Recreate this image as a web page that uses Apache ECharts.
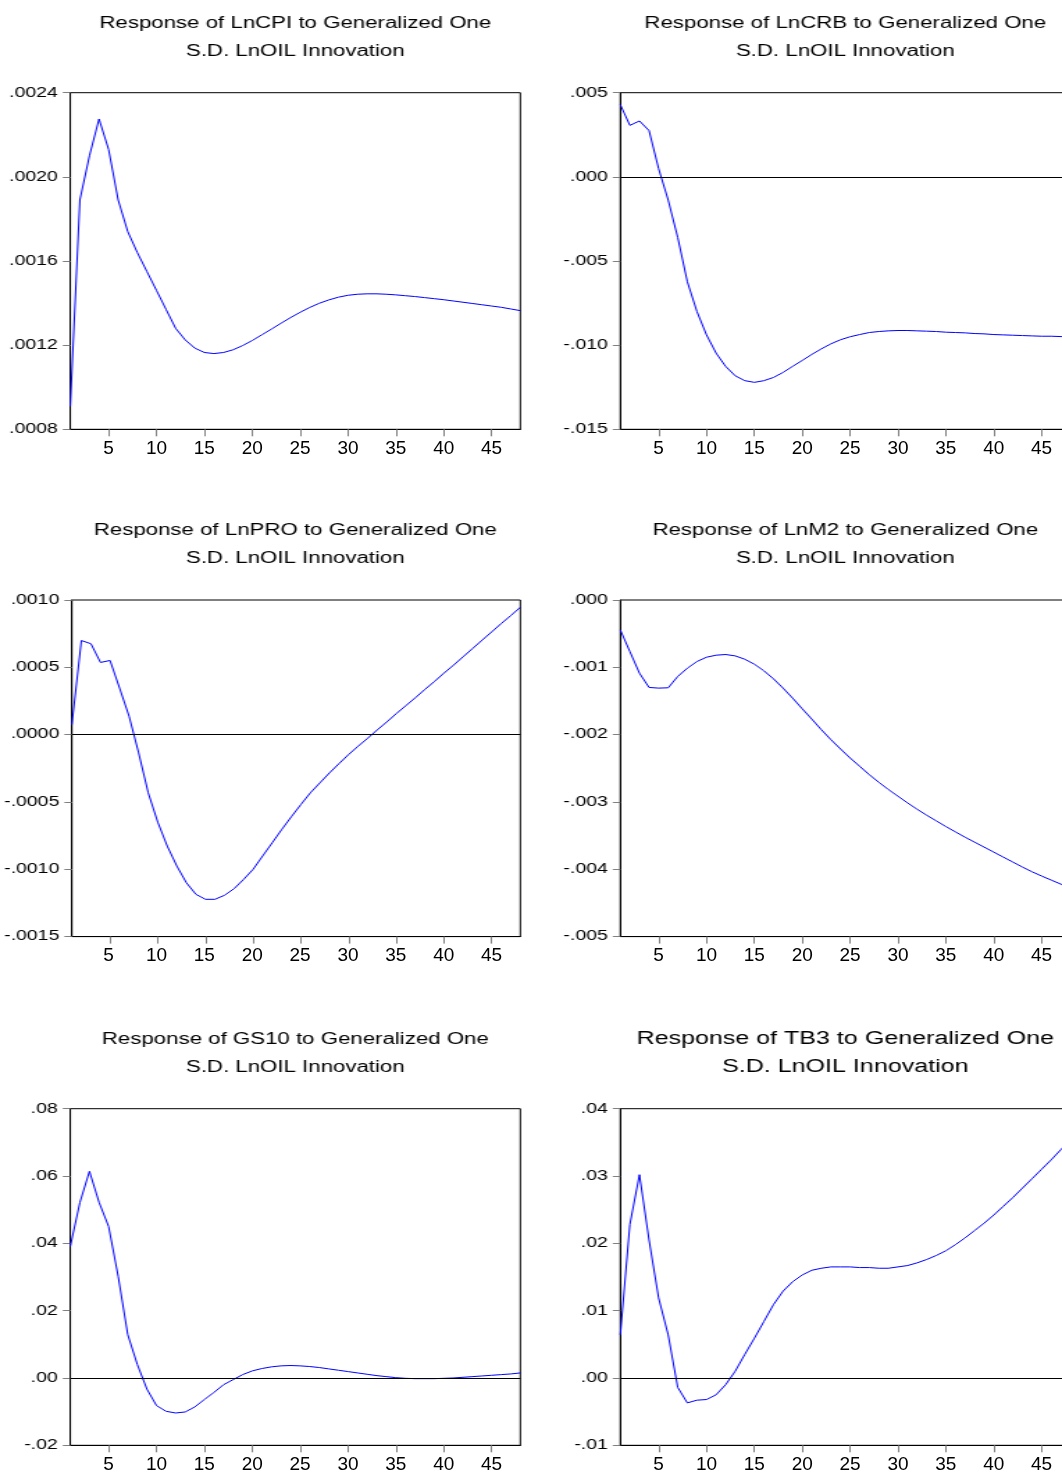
<!DOCTYPE html>
<html><head><meta charset="utf-8">
<script src="https://cdn.jsdelivr.net/npm/echarts@6.0.0/dist/echarts.min.js"></script>
<style>
html,body{margin:0;padding:0;background:#fff;overflow:hidden;width:1062px;height:1475px;}
#wrap{width:1062px;height:1475px;overflow:hidden;position:relative;background:#fff;}
#chart{width:780px;height:1475px;transform:scaleX(1.39);transform-origin:0 0;position:absolute;left:0;top:0;}
#xlab{width:1090px;height:1475px;position:absolute;left:0;top:0;pointer-events:none;}
</style></head>
<body><div id="wrap"><div id="chart"></div><div id="xlab"></div></div>
<script>
// ---- Data (periods 1..48) ----
const periods = ['1','2','3','4','5','6','7','8','9','10','11','12','13','14','15','16','17','18','19','20','21','22','23','24','25','26','27','28','29','30','31','32','33','34','35','36','37','38','39','40','41','42','43','44','45','46','47','48'];

const lncpi = [0.00091, 0.00189, 0.00210, 0.002275, 0.00213, 0.00189, 0.00174, 0.00164, 0.00155, 0.00146, 0.00137, 0.00128, 0.001225, 0.001186, 0.001165, 0.00116, 0.001165, 0.001178, 0.001198, 0.001222, 0.001249, 0.001276, 0.001304, 0.001331, 0.001356, 0.001379, 0.001399, 0.001415, 0.001428, 0.001437, 0.001442, 0.001444, 0.001444, 0.001442, 0.001439, 0.001435, 0.001431, 0.001426, 0.001421, 0.001416, 0.00141, 0.001404, 0.001398, 0.001392, 0.001386, 0.00138, 0.001372, 0.001364];

const lncrb = [0.00429, 0.00306, 0.00332, 0.00275, 0.00049, -0.00138, -0.0036, -0.00623, -0.0080, -0.00939, -0.01047, -0.01126, -0.01182, -0.01211, -0.01221, -0.01211, -0.01192, -0.01162, -0.01126, -0.01091, -0.01055, -0.01022, -0.00992, -0.00968, -0.0095, -0.00937, -0.00925, -0.00919, -0.00915, -0.00913, -0.00913, -0.00915, -0.00917, -0.00919, -0.00923, -0.00925, -0.00927, -0.00931, -0.00933, -0.00937, -0.00939, -0.00941, -0.00943, -0.00945, -0.00947, -0.00947, -0.00949, -0.00949];

const lnpro = [0.000074, 0.000699, 0.000675, 0.000536, 0.000551, 0.000346, 0.000136, -0.000136, -0.000432, -0.00065, -0.000828, -0.000976, -0.0011, -0.001186, -0.001223, -0.001223, -0.001193, -0.001144, -0.001075, -0.001, -0.000901, -0.000803, -0.000704, -0.00061, -0.000519, -0.000432, -0.000358, -0.000284, -0.000215, -0.000148, -0.000086, -0.000027, 0.000035, 0.000094, 0.000156, 0.000215, 0.000274, 0.000336, 0.000395, 0.000457, 0.000516, 0.000578, 0.00064, 0.000702, 0.000763, 0.000825, 0.000884, 0.000946];

const lnm2 = [-0.000445, -0.000766, -0.001087, -0.001299, -0.001309, -0.001304, -0.001136, -0.001013, -0.000914, -0.00085, -0.00082, -0.00081, -0.00083, -0.00088, -0.000954, -0.001052, -0.001171, -0.001309, -0.001458, -0.001616, -0.001769, -0.001927, -0.002075, -0.002213, -0.002347, -0.00247, -0.002594, -0.002708, -0.002816, -0.002915, -0.003014, -0.003108, -0.003197, -0.003281, -0.003365, -0.003444, -0.003523, -0.003597, -0.003671, -0.003745, -0.003819, -0.003893, -0.003967, -0.004037, -0.0041, -0.00416, -0.00422, -0.00428];

const gs10 = [0.0391, 0.0521, 0.0614, 0.0522, 0.045, 0.0302, 0.0129, 0.004, -0.0033, -0.0082, -0.0099, -0.0104, -0.0101, -0.0086, -0.0064, -0.0043, -0.002, -0.0005, 0.001, 0.0021, 0.0028, 0.0033, 0.0036, 0.0037, 0.0036, 0.0034, 0.0031, 0.0027, 0.0023, 0.0019, 0.0015, 0.0011, 0.0007, 0.0004, 0.0001, -0.0001, -0.0002, -0.0002, -0.0002, -0.0001, 0.0, 0.0002, 0.0004, 0.0006, 0.0008, 0.001, 0.0012, 0.0015];

const tb3 = [0.0064, 0.0228, 0.0302, 0.0205, 0.0119, 0.0064, -0.0014, -0.0037, -0.0033, -0.0032, -0.0025, -0.001, 0.001, 0.0035, 0.0059, 0.0084, 0.0109, 0.0129, 0.0143, 0.0153, 0.016, 0.0163, 0.0165, 0.0165, 0.0165, 0.0164, 0.0164, 0.0163, 0.0163, 0.0165, 0.0167, 0.0171, 0.0176, 0.0182, 0.0189, 0.0198, 0.0208, 0.0219, 0.023, 0.0242, 0.0255, 0.0268, 0.0282, 0.0296, 0.031, 0.0324, 0.0339, 0.0353];

// ---- Y tick values per panel ----
const cpiTicks = [0.0008, 0.0012, 0.0016, 0.0020, 0.0024];
const crbTicks = [-0.015, -0.010, -0.005, 0.000, 0.005];
const proTicks = [-0.0015, -0.0010, -0.0005, 0.0000, 0.0005, 0.0010];
const m2Ticks  = [-0.005, -0.004, -0.003, -0.002, -0.001, 0.000];
const gsTicks  = [-0.02, 0.00, 0.02, 0.04, 0.06, 0.08];
const tbTicks  = [-0.01, 0.00, 0.01, 0.02, 0.03, 0.04];

const titles = [
  'Response of LnCPI to Generalized One\nS.D. LnOIL Innovation',
  'Response of LnCRB to Generalized One\nS.D. LnOIL Innovation',
  'Response of LnPRO to Generalized One\nS.D. LnOIL Innovation',
  'Response of LnM2 to Generalized One\nS.D. LnOIL Innovation',
  'Response of GS10 to Generalized One\nS.D. LnOIL Innovation',
  'Response of TB3 to Generalized One\nS.D. LnOIL Innovation'
];

// ---- Layout ----
const S = 1.39;                       // horizontal stretch of the main drawing
const FONT = "'Liberation Sans', Arial, sans-serif";
const colXr = [70.3, 620.3];          // real (stretched) pixel positions
const rowY = [92.7, 600, 1108.7];
const plotWr = 450, plotH = 336.6;
const titleTop = [9.5, 516.5, 1025.5];

const panels = [
  {data: lncpi, ticks: cpiTicks, dec: 4, zero: false, fs: 16},
  {data: lncrb, ticks: crbTicks, dec: 3, zero: true, fs: 16},
  {data: lnpro, ticks: proTicks, dec: 4, zero: true, fs: 16},
  {data: lnm2, ticks: m2Ticks, dec: 3, zero: false, fs: 16},
  {data: gs10, ticks: gsTicks, dec: 2, zero: true, fs: 16},
  {data: tb3, ticks: tbTicks, dec: 2, zero: true, fs: 18}
];

function fmt(v, d) {
  let s = (Math.abs(v) < 1e-12 ? 0 : v).toFixed(d);
  return s.replace(/^(-?)0\./, '$1.');
}
const every5 = (idx) => (idx + 1) % 5 === 0;

// Main (horizontally stretched) chart
const option = {animation: false, backgroundColor: '#fff', title: [], grid: [], xAxis: [], yAxis: [], series: []};
// Overlay chart for x-axis labels (unstretched)
const optX = {animation: false, backgroundColor: 'transparent', grid: [], xAxis: [], yAxis: [], series: []};

panels.forEach((p, i) => {
  const col = i % 2, row = Math.floor(i / 2);
  const left = colXr[col] / S, plotW = plotWr / S;
  const cx = left + plotW / 2;
  option.title.push({
    text: titles[i], left: cx, top: titleTop[row] - (p.fs === 18 ? 0.5 : 0), textAlign: 'center', padding: 0,
    textStyle: {fontSize: p.fs, lineHeight: 28, fontWeight: 'normal', color: '#000', fontFamily: FONT}
  });
  option.grid.push({left: left, top: rowY[row], width: plotW, height: plotH, show: true,
    borderColor: '#000', borderWidth: 1, backgroundColor: '#fff'});
  option.xAxis.push({
    type: 'category', gridIndex: i, data: periods, boundaryGap: false,
    axisLine: {show: true, onZero: false, lineStyle: {color: '#000', width: 1}},
    axisTick: {show: true, inside: false, length: 7, interval: every5, lineStyle: {color: '#808080'}},
    axisLabel: {show: false},
    splitLine: {show: false}
  });
  const t = p.ticks;
  const interval = +((t[1] - t[0]).toPrecision(6));
  option.yAxis.push({
    type: 'value', gridIndex: i, min: t[0], max: t[t.length - 1], interval: interval,
    axisLine: {show: true, onZero: false, lineStyle: {color: '#000', width: 1}},
    axisTick: {show: true, inside: false, length: 5.4, lineStyle: {color: '#808080'}},
    axisLabel: {margin: 9, fontSize: 14, color: '#000', fontFamily: FONT, showMinLabel: true, showMaxLabel: true,
      formatter: (v) => fmt(v, p.dec)},
    splitLine: {show: false}
  });
  const ser = {
    type: 'line', xAxisIndex: i, yAxisIndex: i, data: p.data, showSymbol: false, symbol: 'none',
    lineStyle: {color: '#0000ff', width: 1}, itemStyle: {color: '#0000ff'}, silent: true, z: 3
  };
  if (p.zero) {
    ser.markLine = {silent: true, symbol: ['none', 'none'], label: {show: false}, animation: false,
      lineStyle: {color: '#000', width: 1, type: 'solid'}, data: [{yAxis: 0}]};
  }
  option.series.push(ser);

  // x-axis labels drawn unstretched
  optX.grid.push({left: colXr[col], top: rowY[row], width: plotWr, height: plotH, show: false});
  optX.xAxis.push({
    type: 'category', gridIndex: i, data: periods, boundaryGap: false,
    axisLine: {show: false, onZero: false}, axisTick: {show: false},
    axisLabel: {interval: every5, margin: 10, fontSize: 19, color: '#000', fontFamily: FONT},
    splitLine: {show: false}
  });
  optX.yAxis.push({type: 'value', gridIndex: i, min: t[0], max: t[t.length - 1], interval: interval, show: false});
});

const chart = echarts.init(document.getElementById('chart'), null, {renderer: 'canvas'});
chart.setOption(option);
const chartX = echarts.init(document.getElementById('xlab'), null, {renderer: 'canvas'});
chartX.setOption(optX);
</script>
</body></html>
